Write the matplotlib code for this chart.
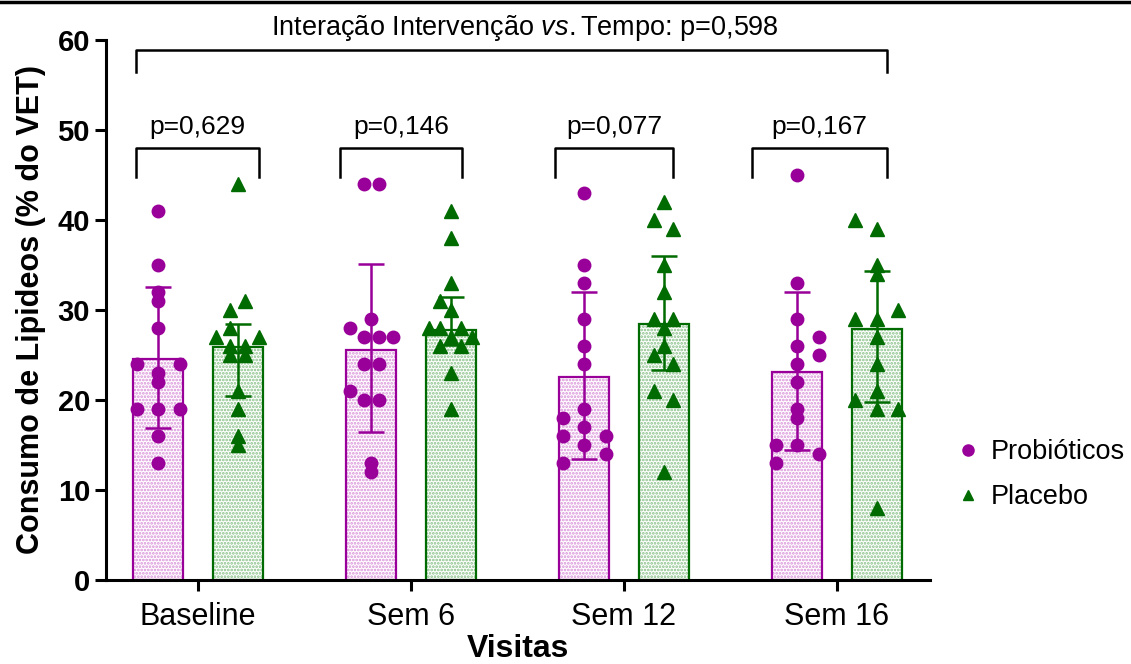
import matplotlib
matplotlib.use("Agg")
import matplotlib.pyplot as plt
from matplotlib.lines import Line2D
import numpy as np

plt.rcParams['font.family'] = ['Liberation Sans', 'DejaVu Sans']
plt.rcParams['mathtext.fontset'] = 'custom'
plt.rcParams['mathtext.rm'] = 'Liberation Sans'
plt.rcParams['mathtext.it'] = 'Liberation Sans:italic'
plt.rcParams['hatch.linewidth'] = 1.3

# dados
visitas = ["Baseline", "Sem 6", "Sem 12", "Sem 16"]
grupos = ["Probióticos", "Placebo"]

prob_media = [24.6, 25.6, 22.6, 23.1]
prob_sup = [32.6, 35.1, 32.0, 32.0]
prob_inf = [16.9, 16.4, 13.5, 14.4]

plac_media = [25.9, 27.8, 28.4, 27.9]
plac_sup = [28.5, 31.5, 36.0, 34.3]
plac_inf = [20.5, 26.1, 23.3, 19.8]

prob_pontos = [
    [41, 35, 32, 31, 28, 24, 24, 23, 22, 19, 19, 19, 16, 13],
    [44, 44, 29, 28, 27, 27, 27, 24, 24, 21, 20, 20, 13, 12],
    [43, 35, 33, 29, 26, 24, 19, 18, 17, 16, 16, 15, 14, 13],
    [45, 33, 29, 27, 26, 25, 24, 22, 19, 18, 15, 15, 14, 13],
]
plac_pontos = [
    [44, 31, 30, 28, 27, 27, 26, 26, 25, 25, 21, 19, 16, 15],
    [41, 38, 33, 31, 30, 28, 28, 28, 27, 27, 26, 26, 23, 19],
    [42, 40, 39, 35, 32, 29, 29, 28, 26, 25, 24, 21, 20, 12],
    [40, 39, 35, 34, 30, 29, 29, 27, 24, 21, 20, 19, 19, 8],
]

p_visitas = ["p=0,629", "p=0,146", "p=0,077", "p=0,167"]
p_interacao = "0,598"

# deslocamento horizontal dos pontos (layout, unidades de ~7 px)
prob_desl = [
    [0, 0, 0, 0, 0, -3, 3, 0, 0, -3, 0, 3, 0, 0],
    [-1, 1, 0, -3, -1, 1, 3, -1, 1, -3, -1, 1, 0, 0],
    [0, 0, 0, 0, 0, 0, 0, -3, 0, -3, 3, 0, 3, -3],
    [0, 0, 0, 3, 0, 3, 0, 0, 0, 0, -3, 0, 3, -3],
]
plac_desl = [
    [0, 1, -1, -1, -3, 3, -1, 1, -1, 1, 0, 0, 0, 0],
    [0, 0, 0, -1.5, 0, -3, -1.5, 1.5, 0, 3, -1.5, 1.5, 0, 0],
    [0, -1.3, 1.3, 0, 0, -1.3, 1.3, 0, 0, -1.3, 1.3, -1.3, 1.3, 0],
    [-3, 0, 0, 0, 3, -3, 0, 0, 0, 0, -3, 0, 3, 0],
]

roxo = "#990099"
verde = "#006b00"
roxo_claro = "#d98fd9"
verde_claro = "#85bf85"

fig = plt.figure(figsize=(11.31, 6.64), dpi=100)
ax = fig.add_axes([106/1131, 84/664, 824/1131, 540/664])

x = np.arange(len(visitas))
dx = 0.186
w = 0.235
u = 0.0338

series = [
    (prob_media, prob_sup, prob_inf, prob_pontos, prob_desl, roxo, roxo_claro, "o", -dx),
    (plac_media, plac_sup, plac_inf, plac_pontos, plac_desl, verde, verde_claro, "^", dx),
]

for media, sup, inf, pontos, desl, cor, cor_clara, mk, off in series:
    media = np.array(media)
    xs = x + off
    ax.bar(xs, media, w, color="white", edgecolor=cor_clara, hatch=".....", linewidth=0, zorder=1)
    ax.bar(xs, media, w, fill=False, edgecolor=cor, linewidth=1.6, zorder=2)
    yerr = [media - np.array(inf), np.array(sup) - media]
    ax.errorbar(xs, media, yerr=yerr, fmt="none", ecolor=cor, elinewidth=1.8,
                capsize=9.5, capthick=1.8, zorder=3)
    for i in range(len(visitas)):
        px = xs[i] + np.array(desl[i]) * u
        ax.plot(px, pontos[i], mk, color=cor, markersize=9 if mk == "o" else 9.5,
                linestyle="none", zorder=4, clip_on=False)

ax.set_xlim(-0.432, 3.437)
ax.set_ylim(0, 60)
ax.set_yticks(range(0, 61, 10))
ax.set_xticks(x)
ax.set_xticklabels(visitas, fontsize=22)
for t in ax.get_yticklabels():
    t.set_fontweight("bold")
    t.set_fontsize(21)
ax.tick_params(axis="both", width=2.2, length=8, direction="out")
ax.tick_params(axis="x", pad=8)
ax.spines["top"].set_visible(False)
ax.spines["right"].set_visible(False)
ax.spines["left"].set_linewidth(2.2)
ax.spines["bottom"].set_linewidth(2.2)

ax.set_ylabel("Consumo de Lipideos (% do VET)", fontsize=22, fontweight="bold", labelpad=8)
ax.set_xlabel("Visitas", fontsize=23, fontweight="bold", labelpad=1)

# colchetes por visita
colchetes = [(-0.291, 0.286), (0.667, 1.239), (1.676, 2.230), (2.601, 3.235)]
for (a, b), txt in zip(colchetes, p_visitas):
    ax.plot([a, a, b, b], [44.8, 48.0, 48.0, 44.8], color="black", lw=1.8, zorder=5)
    ax.text((a + b) / 2, 49.0, txt, ha="center", va="bottom", fontsize=19)

# colchete da interacao
ax.plot([-0.291, -0.291, 3.235, 3.235], [56.4, 58.9, 58.9, 56.4], color="black", lw=1.8,
        clip_on=False, zorder=5)
ax.text(1.535, 61.3, r"Interação Intervenção $\it{vs.}$Tempo: p=" + p_interacao,
        ha="center", va="center", fontsize=19.5)

# legenda
handles = [
    Line2D([], [], marker="o", color=roxo, linestyle="none", markersize=8),
    Line2D([], [], marker="^", color=verde, linestyle="none", markersize=7),
]
fig.legend(handles, grupos, loc="center left", bbox_to_anchor=(0.822, 0.285),
           frameon=False, fontsize=19.5, handletextpad=0.35, labelspacing=0.7,
           handlelength=1.0)

fig.add_artist(Line2D([0, 1], [0.9975, 0.9975], color="black", lw=2.5))

fig.savefig("out.png", dpi=100)
